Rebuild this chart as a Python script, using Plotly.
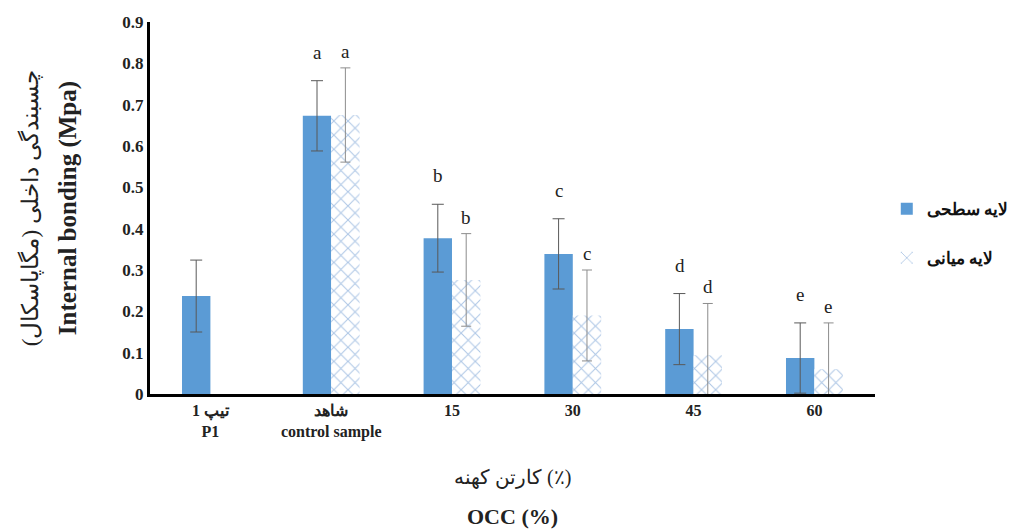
import plotly.graph_objects as go

categories = ["تیپ 1<br>P1", "شاهد<br>control sample", "15", "30", "45", "60"]
surface_vals = [0.237, 0.673, 0.377, 0.339, 0.157, 0.087]
surface_err = [0.087, 0.085, 0.082, 0.085, 0.086, 0.085]
middle_vals = [None, 0.675, 0.276, 0.190, 0.094, 0.060]
middle_err = [None, 0.114, 0.112, 0.110, 0.125, 0.112]
surface_letters = ["", "a", "b", "c", "d", "e"]
middle_letters = ["", "a", "b", "c", "d", "e"]

blue = "#5B9BD5"
serif = "Liberation Serif, Times New Roman, DejaVu Serif, serif"

fig = go.Figure()
fig.add_trace(go.Bar(
    x=categories, y=surface_vals, name="لایه سطحی", legendgroup="s",
    marker=dict(color=blue, line=dict(width=0)),
    error_y=dict(type="data", array=surface_err, color="#595959", thickness=1, width=6),
))
fig.add_trace(go.Bar(
    x=categories, y=middle_vals, name="لایه میانی", legendgroup="m",
    marker=dict(color="white", line=dict(width=0),
                pattern=dict(shape="x", fgcolor="#5E8FCC", bgcolor="white", size=10, solidity=0.2)),
    error_y=dict(type="data", array=[e if e is not None else 0 for e in middle_err],
                 color="#8c8c8c", thickness=1, width=5),
))

annotations = []
for i, cat in enumerate(categories):
    if surface_letters[i]:
        annotations.append(dict(x=i, y=surface_vals[i] + surface_err[i], xref="x", yref="y",
                                text=surface_letters[i], showarrow=False, xshift=-14, yshift=16,
                                yanchor="bottom", font=dict(family=serif, size=19, color="#222")))
    if middle_letters[i] and middle_vals[i] is not None:
        annotations.append(dict(x=i, y=middle_vals[i] + middle_err[i], xref="x", yref="y",
                                text=middle_letters[i], showarrow=False, xshift=14, yshift=4,
                                yanchor="bottom", font=dict(family=serif, size=19, color="#222")))

annotations.append(dict(x=0.5, y=-0.225, xref="paper", yref="paper", text="کارتن کهنه (٪)",
                        showarrow=False, yanchor="middle",
                        font=dict(family=serif, size=20, color="#222")))
annotations.append(dict(x=0.5, y=-0.33, xref="paper", yref="paper", text="<b>OCC (%)</b>",
                        showarrow=False, yanchor="middle",
                        font=dict(family=serif, size=22, color="#222")))
annotations.append(dict(x=30, y=0.5, xref="paper", yref="paper",
                        text="چسبندگی داخلی (مگاپاسکال)",
                        textangle=-90, showarrow=False, xanchor="center", yanchor="middle",
                        font=dict(family=serif, size=23, color="#222")))
annotations.append(dict(x=68, y=0.5, xref="paper", yref="paper",
                        text="<b>Internal bonding (Mpa)</b>",
                        textangle=-90, showarrow=False, xanchor="center", yanchor="middle",
                        font=dict(family=serif, size=25, color="#222")))
plot_left, plot_w = 150, 1010 - 150 - 134
for a in annotations[-2:]:
    a["x"] = (a["x"] - plot_left) / plot_w

fig.update_layout(
    width=1010, height=531,
    margin=dict(l=150, r=134, t=22, b=137),
    paper_bgcolor="white", plot_bgcolor="white",
    barmode="group", bargap=0.53, bargroupgap=0,
    font=dict(family=serif, color="#222"),
    showlegend=True,
    legend=dict(xref="container", yref="container", x=0.878, y=0.56,
                xanchor="left", yanchor="middle",
                font=dict(family=serif, size=17, color="#111", weight="bold"),
                tracegroupgap=24, itemwidth=30, bgcolor="rgba(0,0,0,0)"),
    annotations=annotations,
)
fig.update_xaxes(type="category", range=[-0.5, len(categories) - 0.5], showline=True,
                 linecolor="black", linewidth=3, showgrid=False,
                 ticks="", tickfont=dict(family=serif, size=16, color="#222", weight="bold"))
fig.update_yaxes(range=[0, 0.9], dtick=0.1, showline=True, linecolor="black", linewidth=3,
                 showgrid=False, zeroline=False, ticks="", tickformat="~g",
                 tickfont=dict(family=serif, size=17, color="#222", weight="bold"))

fig.write_html("out.html")
